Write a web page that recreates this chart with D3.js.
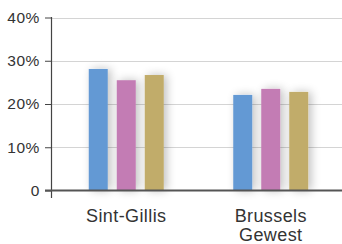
<!DOCTYPE html>
<html><head><meta charset="utf-8">
<script src="https://cdn.jsdelivr.net/npm/d3@7"></script>
<style>html,body{margin:0;padding:0;background:#fff;}svg{display:block;}</style>
</head><body>
<svg id="c" width="342" height="244"></svg>
<script>
const categories = [["Sint-Gillis"], ["Brussels", "Gewest"]];
const categoryKeys = ["Sint-Gillis", "Brussels Gewest"];
const seriesNames = ["s1", "s2", "s3"];
const seriesColors = ["#6399d4", "#c37cb4", "#c1ac6a"];
const values = [
  [28.1, 25.5, 26.7],
  [22.1, 23.5, 22.8]
];
const yTicks = [0, 10, 20, 30, 40];
const yTickLabels = ["0", "10%", "20%", "30%", "40%"];

const svg = d3.select("#c");
const y = d3.scaleLinear().domain([0, 40]).range([190.5, 17.5]);
const x0 = d3.scaleBand().domain(categoryKeys).range([54, 343]).padding(0);
const x1 = d3.scaleBand().domain(seriesNames).range([-37.5, 37.5]).paddingInner(9/28).paddingOuter(0);

const defs = svg.append("defs");
const f = defs.append("filter").attr("id","sh").attr("x","-100%").attr("y","-20%").attr("width","300%").attr("height","140%");
f.append("feGaussianBlur").attr("in","SourceAlpha").attr("stdDeviation",5).attr("result","b");
f.append("feOffset").attr("in","b").attr("dx",3).attr("dy",0).attr("result","o");
f.append("feComponentTransfer").attr("in","o").attr("result","o2").append("feFuncA").attr("type","linear").attr("slope",0.25);
const m = f.append("feMerge");
m.append("feMergeNode").attr("in","o2");
m.append("feMergeNode").attr("in","SourceGraphic");

// gridlines
svg.append("g").selectAll("line").data(yTicks.slice(1)).join("line")
  .attr("x1", 51).attr("x2", 342)
  .attr("y1", d => Math.round(y(d)) + 0.5).attr("y2", d => Math.round(y(d)) + 0.5)
  .attr("stroke", "#d4d4d4").attr("stroke-width", 1.2);

// bars
const g = svg.append("g").selectAll("g").data(values).join("g")
  .attr("transform", (d, i) => `translate(${x0(categoryKeys[i]) + x0.bandwidth()/2},0)`);
g.selectAll("rect").data(d => d.map((v, j) => ({v, j}))).join("rect")
  .attr("x", d => x1(seriesNames[d.j]))
  .attr("width", x1.bandwidth())
  .attr("y", d => y(d.v))
  .attr("height", d => y(0) - y(d.v))
  .attr("fill", d => seriesColors[d.j])
  .attr("filter", "url(#sh)");

// y axis
const ax = svg.append("g").attr("transform", "translate(51,0)")
  .call(d3.axisLeft(y).tickValues(yTicks).tickFormat((d, i) => yTickLabels[i]).tickSize(6).tickPadding(5));
ax.select(".domain").remove();
ax.selectAll(".tick line").attr("stroke", "#444").attr("stroke-width", 1);
ax.selectAll(".tick text").attr("fill", "#333")
  .style("font-family", "Liberation Sans, Arial, sans-serif").style("font-size", "15.5px").style("letter-spacing", "0.6px");
svg.append("line").attr("x1", 51.5).attr("x2", 51.5).attr("y1", 17).attr("y2", 198).attr("stroke", "#444").attr("stroke-width", 1.2);

// baseline
svg.append("line").attr("x1", 45).attr("x2", 342).attr("y1", 190.5).attr("y2", 190.5).attr("stroke", "#555").attr("stroke-width", 2);

// category labels
const lab = svg.append("g").selectAll("text").data(categories).join("text")
  .attr("x", (d, i) => x0(categoryKeys[i]) + x0.bandwidth()/2)
  .attr("y", 221.5)
  .attr("text-anchor", "middle")
  .attr("fill", "#333")
  .style("font-family", "Liberation Sans, Arial, sans-serif")
  .style("font-size", "18px")
  .style("letter-spacing", "0.4px");
lab.selectAll("tspan").data(d => d).join("tspan")
  .attr("x", function() { return d3.select(this.parentNode).attr("x"); })
  .attr("dy", (d, i) => i === 0 ? 0 : 19.5)
  .text(d => d);
</script>
</body></html>
